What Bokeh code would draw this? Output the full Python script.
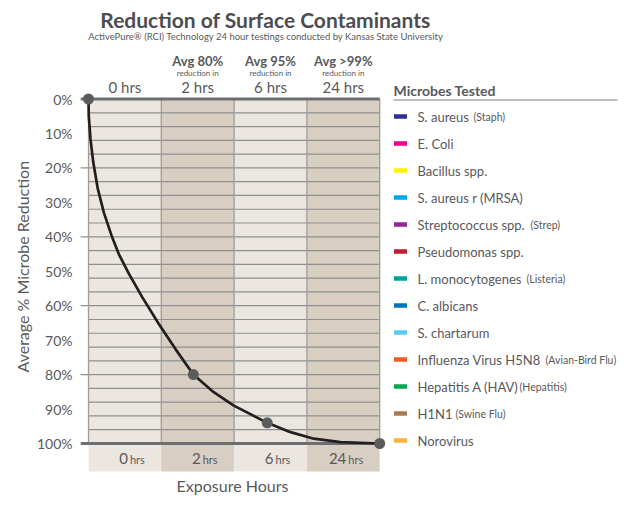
import numpy as np
from bokeh.plotting import figure
from bokeh.models import ColumnDataSource, Range1d, FixedTicker, Title
from bokeh.embed import file_html
from bokeh.resources import INLINE
from bokeh.core.properties import value

# ---------------- data ----------------
col_numbers = ["0", "2", "6", "24"]
col_unit = ["hrs", "hrs", "hrs", "hrs"]
header_top = ["0 hrs", "2 hrs", "6 hrs", "24 hrs"]
header_avg = ["", "Avg 80%", "Avg 95%", "Avg >99%"]
header_sub = ["", "reduction in", "reduction in", "reduction in"]

# measured reduction points (x = position along the exposure-hour columns)
point_x = [0.0, 1.44, 2.455, 4.0]
point_reduction = [0, 80, 94, 100]

# curve
curve_x = [0.0, 0.004, 0.027, 0.065, 0.128, 0.21, 0.316, 0.416, 0.554, 0.738,
           0.966, 1.195, 1.44, 1.72, 1.996, 2.455, 2.775, 3.095, 3.46, 4.0]
curve_y = [0, 5.0, 11.6, 18.3, 26.1, 32.9, 39.6, 45.0, 50.7, 57.5,
           65.3, 72.6, 80, 85.1, 89.0, 94, 96.7, 98.6, 99.6, 100]

y_ticks = [0, 10, 20, 30, 40, 50, 60, 70, 80, 90, 100]

microbes = ["S. aureus", "E. Coli", "Bacillus spp.", "S. aureus r (MRSA)",
            "Streptococcus spp.", "Pseudomonas spp.", "L. monocytogenes",
            "C. albicans", "S. chartarum", "Influenza Virus H5N8",
            "Hepatitis A (HAV)", "H1N1", "Norovirus"]
microbe_notes = ["(Staph)", "", "", "", "(Strep)", "", "(Listeria)", "", "",
                 "(Avian-Bird Flu)", "(Hepatitis)", "(Swine Flu)", ""]
microbe_colors = ["#2e3192", "#ec008c", "#fff200", "#00a6e8", "#92278f",
                  "#be1e2d", "#00a19a", "#0072bc", "#5bc8f0", "#f15a29",
                  "#00a651", "#a67c52", "#fbb040"]

# ---------------- layout helpers (page px -> data) ----------------
PX0, PXW = 88.0, 72.8
PY0, PYH = 98.5, 3.445


def X(px):
    return (px - PX0) / PXW


def Y(py):
    return (py - PY0) / PYH


TXT = "#58595b"
FONT = value("Lato")
note_offset_px = [56, 0, 0, 0, 113, 0, 109, 0, 0, 128, 102, 38, 0]

p = figure(width=620, height=502, output_backend="svg", toolbar_location=None,
           x_range=Range1d(X(80), X(620)), y_range=Range1d(Y(502), Y(0)),
           x_axis_location=None,
           min_border_left=80, min_border_right=0, min_border_top=0, min_border_bottom=0)
p.outline_line_color = None
p.grid.visible = False
p.background_fill_color = "white"
p.border_fill_color = "white"

# y axis
yax = p.yaxis[0]
yax.ticker = FixedTicker(ticks=y_ticks)
yax.major_label_overrides = {t: f"{t}%" for t in y_ticks}
yax.axis_line_color = None
yax.major_tick_line_color = None
yax.minor_tick_line_color = None
yax.major_label_standoff = 2
yax.major_label_text_font = "Lato"
yax.major_label_text_font_size = "14px"
yax.major_label_text_color = TXT

p.add_layout(Title(text="Average % Microbe Reduction", align="left", offset=130,
                   text_font="Lato", text_font_size="16px", text_font_style="normal",
                   text_color=TXT, standoff=4), "left")

# columns
n = len(col_numbers)
col_idx = np.arange(n)
col_fill = ["#ebe6e0" if i % 2 == 0 else "#d8cec2" for i in range(n)]
band_bottom = Y(471)
p.quad(left=col_idx, right=col_idx + 1, top=0, bottom=band_bottom,
       fill_color=col_fill, line_color=None)

# horizontal rules every 4 %
grid_y = np.arange(4, 100, 4)
p.segment(x0=0, x1=n, y0=grid_y, y1=grid_y, line_color="#8f8f8f", line_width=1.2)
tick_y = [t for t in y_ticks if t % 20 == 0 and 0 < t < 100]
p.segment(x0=X(80), x1=0, y0=tick_y, y1=tick_y, line_color="#8f8f8f", line_width=1.2)

# vertical dividers
edges = np.arange(n + 1)
p.segment(x0=edges, x1=edges, y0=0, y1=100, line_color="#a09c97", line_width=1.3)

# thick 0% / 100% lines
p.segment(x0=X(80), x1=n, y0=[0, 100], y1=[0, 100], line_color="#6d6e71", line_width=3)

# curve + points
p.line(curve_x, curve_y, line_color="#231f20", line_width=2.7)
p.scatter(point_x, point_reduction, size=11, fill_color="#5b5c5e", line_color=None)


def txt(x, y, text, size, style="normal", align="left", color=TXT, **kw):
    return p.text(x=x, y=y, text=text, text_font=FONT, text_font_size=size,
                  text_font_style=style, text_align=align, text_baseline="middle",
                  text_color=color, **kw)


# headers
cx = col_idx + 0.5
txt(cx, Y(60), header_avg, "13px", "bold", "center")
txt(cx, Y(72), header_sub, "8px", align="center")
txt(cx, Y(86), header_top, "15px", align="center")

# bottom band labels
txt(cx, Y(457.5), col_numbers, "15px", align="right", x_offset=3)
txt(cx, Y(459), col_unit, "11px", align="left", x_offset=5)

# x axis title
txt([X(232)], [Y(485)], ["Exposure Hours"], "16px", align="center")

# chart title and subtitle
txt([X(265)], [Y(18.5)], ["Reduction of Surface Contaminants"], "21px", "bold", "center",
    color="#4d4d4f")
txt([X(265.5)], [Y(36)],
    ["ActivePure\u00ae (RCI) Technology 24 hour testings conducted by Kansas State University"],
    "9.5px", align="center")

# legend
txt([X(393)], [Y(90)], ["Microbes Tested"], "14px", "bold")
p.segment(x0=X(393), x1=X(617), y0=Y(99.5), y1=Y(99.5), line_color="#a7a9ac", line_width=1.5)

leg_y = [Y(116 + 27 * i) for i in range(len(microbes))]
leg = ColumnDataSource(dict(y=leg_y, name=microbes, note=microbe_notes,
                            color=microbe_colors, off=note_offset_px))
p.rect(x=X(400), y="y", width=13, height=4.5, width_units="screen", height_units="screen",
       fill_color="color", line_color=None, source=leg)
p.text(x=X(417), y="y", text="name", text_font=FONT, text_font_size="13px",
       text_align="left", text_baseline="middle", text_color=TXT, source=leg)
p.text(x=X(417), y="y", text="note", x_offset="off", text_font=FONT, text_font_size="10.5px",
       text_align="left", text_baseline="middle", text_color=TXT, source=leg)

open("out.html", "w").write(file_html(p, INLINE))
